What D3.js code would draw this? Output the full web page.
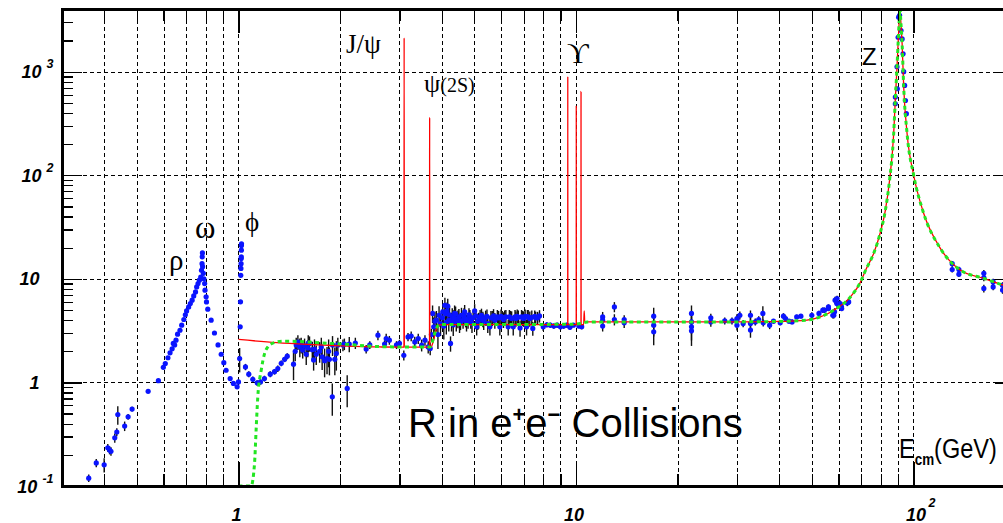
<!DOCTYPE html>
<html>
<head>
<meta charset="utf-8">
<script src="https://cdn.jsdelivr.net/npm/d3@7"></script>
<style>
  html, body { margin: 0; padding: 0; background: #fff; }
  svg { display: block; }
</style>
</head>
<body>
<svg id="chart" width="1003" height="523"></svg>
<script>
// ---------------- data ----------------
// axis tick labels
const xTickValues = [1, 10, 100];
const xTickBase = ["1", "10", "10"];
const xTickExp = ["", "", "2"];
const yTickValues = [0.1, 1, 10, 100, 1000];
const yTickBase = ["10", "1", "10", "10", "10"];
const yTickExp = ["-1", "", "", "2", "3"];

// measured R ratio: centre-of-mass energy (GeV), R, error
const dataE = [
  0.36, 0.379, 0.40, 0.41, 0.415, 0.419, 0.43, 0.436, 0.439, 0.46, 0.471, 0.484, 0.54, 0.579,
  0.599, 0.607, 0.618, 0.627, 0.636, 0.641, 0.647, 0.653, 0.66, 0.671, 0.679, 0.689, 0.696, 0.702,
  0.712, 0.72, 0.729, 0.737, 0.746, 0.752, 0.759, 0.766, 0.773, 0.777, 0.78, 0.781, 0.782, 0.783,
  0.787, 0.79, 0.794, 0.796, 0.802, 0.804, 0.811, 0.83, 0.849, 0.87, 0.889, 0.905, 0.919, 0.945,
  0.966, 0.991, 1.0, 1.008, 1.012, 1.014, 1.016, 1.017, 1.018, 1.019, 1.0195, 1.020, 1.0205, 1.021,
  1.049, 1.073, 1.103, 1.136, 1.162, 1.194, 1.242, 1.279, 1.308, 1.339, 1.37, 1.395, 1.456, 1.473,
  1.483, 1.5, 1.52, 1.534, 1.55, 1.57, 1.588, 1.605, 1.624, 1.655, 1.67, 1.70, 1.74, 1.77, 1.80,
  1.83, 1.86, 1.897, 1.93, 1.97, 2.04, 2.06, 2.1, 2.13, 2.22, 2.39, 2.45, 2.59, 2.71, 2.74, 2.8,
  2.94, 3.0, 3.09, 3.18, 3.25, 3.33, 3.41, 3.49, 3.57, 3.65, 3.7, 3.73, 3.76, 3.79, 3.82, 3.86,
  3.9, 3.93, 3.97, 4.03, 4.06, 4.09, 4.13, 4.17, 4.2, 4.25, 4.3, 4.33, 4.37, 4.42, 4.47, 4.52,
  4.58, 4.63, 4.68, 4.74, 4.79, 4.85, 4.92, 5.01, 5.08, 5.15, 5.25, 5.33, 5.4, 5.48, 5.56, 5.65,
  5.75, 5.85, 5.95, 6.05, 6.1, 6.2, 6.3, 6.4, 6.52, 6.6, 6.64, 6.75, 6.83, 6.9, 7.0, 7.07, 7.14,
  7.22, 7.3, 7.45, 7.6, 7.8, 8.0, 8.2, 8.4, 8.6, 8.8, 9.0, 9.2, 9.4, 9.6, 9.83, 10.2, 10.4,
  12.0, 12.0, 12.0, 13.0, 13.0, 13.9, 13.9,
  17.0, 17.0, 17.0, 22.0, 22.0, 22.0, 22.0, 25.1, 25.1, 27.6, 29.0, 30.0, 30.0, 30.0, 30.6, 31.3,
  32.9, 32.9, 32.9, 34.0, 34.8, 35.8, 35.9, 37.5, 38.5, 40.3, 41.2, 41.8, 42.8, 43.7, 45.1, 46.4,
  50.0, 52.5, 53.9, 54.5, 56.0, 56.0, 57.7, 58.1, 58.4, 58.6, 59.3, 59.4, 60.0, 60.7, 61.2, 61.3,
  63.7, 64.3,
  88.4, 88.4, 89.4, 89.6, 90.1, 90.4, 91.0, 91.9, 92.6, 93.2, 93.6, 94.2, 94.7, 95.3,
  130.3, 130.3, 136.4, 136.4, 161.7, 161.7, 161.7, 172.3, 172.3, 183.7, 183.7
];
const dataR = [
  0.119, 0.167, 0.16, 0.234, 0.222, 0.216, 0.292, 0.332, 0.49, 0.379, 0.466, 0.553, 0.82, 1.04,
  1.40, 1.52, 1.73, 1.93, 2.11, 2.38, 2.30, 2.56, 2.92, 3.19, 3.57, 4.05, 4.49, 4.9,
  5.36, 5.78, 6.22, 6.84, 7.48, 8.36, 9.0, 9.7, 10.4, 12.1, 14.0, 16.3, 17.8, 13.1,
  11.3, 10.0, 9.0, 7.77, 6.7, 5.99, 5.09, 3.99, 3.0, 2.3, 1.87, 1.55, 1.31, 1.09,
  0.978, 0.907, 1.01, 1.70, 3.44, 6.0, 10.8, 12.6, 14.0, 15.7, 16.3, 18.9, 21.0, 21.8,
  1.41, 1.2, 1.07, 0.99, 1.01, 1.09, 1.2, 1.27, 1.36, 1.53, 1.67, 1.79, 1.5, 2.0,
  2.3, 2.45, 2.2, 2.3, 2.05, 2.25, 1.87, 2.15, 2.38, 2.07, 1.65, 1.87, 2.0, 1.77, 1.62,
  1.7, 1.67, 0.726, 1.67, 2.3, 2.3, 2.35, 0.875, 2.35, 2.4, 2.1, 2.3, 2.86, 2.35, 2.65, 2.56,
  2.3, 2.38, 1.83, 2.75, 2.8, 2.46, 2.65, 2.29, 2.56, 2.2, 2.13, 2.9, 4.63, 3.44, 3.9, 3.99,
  2.9, 4.45, 3.7, 4.79, 3.5, 5.56, 3.8, 5.44, 4.0, 2.38, 4.3, 3.6, 4.63, 3.9, 4.14, 3.7,
  4.45, 4.0, 4.79, 3.8, 3.99, 4.3, 3.7, 4.9, 3.44, 4.0, 4.45, 3.9, 4.23, 3.7, 3.44, 4.2,
  3.99, 4.3, 3.44, 4.2, 4.05, 4.3, 3.44, 4.2, 3.44, 4.3, 4.14, 4.25, 3.36, 4.3, 4.14, 4.35, 3.44,
  4.3, 4.14, 3.32, 4.2, 4.38, 3.44, 3.6, 3.57, 3.5, 3.57, 3.44, 3.5, 3.57, 3.4, 3.57, 3.5, 3.45,
  4.29, 3.99, 3.5, 5.36, 4.05, 4.05, 3.76,
  4.36, 3.57, 3.08, 4.63, 3.84, 3.44, 3.15, 4.2, 3.84, 3.93, 3.93, 4.14, 3.99, 3.57, 4.45, 3.7,
  4.45, 3.7, 3.2, 3.84, 4.05, 4.63, 3.76, 3.57, 3.9, 3.76, 4.36, 4.14, 3.9, 3.84, 4.29, 4.36,
  4.45, 4.63, 4.98, 4.98, 5.17, 5.36, 4.45, 4.45, 4.8, 6.22, 5.78, 6.46, 5.7, 5.78, 5.4, 5.17,
  5.85, 5.99,
  568, 490, 1115, 684, 2150, 3356, 3500, 2495, 2070, 1489, 1000, 736, 527, 393,
  14.0, 12.3, 12.3, 11.1, 11.3, 10.3, 8.08, 9.34, 8.35, 8.67, 7.79
];
const dataErr = [
  0.01, 0.015, 0.025, 0.02, 0.02, 0.02, 0.03, 0.03, 0.1, 0.04, 0.03, 0.03, 0.03, 0.04,
  0.05, 0.05, 0.05, 0.05, 0.06, 0.06, 0.06, 0.06, 0.07, 0.08, 0.08, 0.1, 0.1, 0.1,
  0.1, 0.12, 0.12, 0.15, 0.15, 0.15, 0.2, 0.2, 0.2, 0.3, 0.3, 0.3, 0.4, 0.3,
  0.3, 0.2, 0.2, 0.2, 0.15, 0.15, 0.12, 0.1, 0.08, 0.06, 0.05, 0.05, 0.04, 0.04,
  0.04, 0.04, 0.05, 0.45, 0.1, 0.2, 0.3, 0.3, 0.3, 0.4, 0.4, 0.4, 0.5, 0.5,
  0.1, 0.08, 0.07, 0.06, 0.06, 0.07, 0.08, 0.08, 0.1, 0.1, 0.1, 0.12, 0.45, 0.4,
  0.4, 0.4, 0.45, 0.4, 0.35, 0.4, 0.4, 0.4, 0.4, 0.4, 0.35, 0.4, 0.45, 0.45, 0.5,
  0.5, 0.5, 0.25, 0.5, 0.4, 0.3, 0.3, 0.3, 0.4, 0.3, 0.2, 0.2, 0.3, 0.2, 0.3, 0.25,
  0.2, 0.2, 0.2, 0.25, 0.3, 0.3, 0.3, 0.3, 0.3, 0.3, 0.3, 0.4, 0.9, 0.8, 0.9, 0.9,
  0.8, 1.0, 0.9, 1.0, 0.9, 1.0, 0.9, 1.0, 0.9, 0.4, 0.9, 0.8, 0.9, 0.8, 0.8, 0.7,
  0.8, 0.7, 0.8, 0.7, 0.7, 0.7, 0.7, 0.8, 0.6, 0.7, 0.7, 0.7, 0.7, 0.7, 0.6, 0.7,
  0.7, 0.7, 0.6, 0.7, 0.7, 0.7, 0.6, 0.7, 0.6, 0.7, 0.7, 0.7, 0.6, 0.7, 0.7, 0.7, 0.6,
  0.7, 0.7, 0.5, 0.6, 0.6, 0.3, 0.2, 0.2, 0.2, 0.2, 0.2, 0.2, 0.2, 0.15, 0.15, 0.15, 0.2,
  0.5, 0.4, 0.4, 0.6, 0.5, 0.4, 0.4,
  0.9, 0.8, 0.8, 0.9, 0.9, 0.9, 0.9, 0.4, 0.4, 0.3, 0.3, 0.4, 0.4, 0.4, 0.4, 0.3,
  0.5, 0.5, 0.5, 0.3, 0.3, 0.8, 0.3, 0.3, 0.2, 0.2, 0.3, 0.3, 0.2, 0.2, 0.2, 0.2,
  0.3, 0.3, 0.3, 0.3, 0.3, 0.3, 0.3, 0.3, 0.4, 0.5, 0.4, 0.4, 0.4, 0.4, 0.3, 0.3,
  0.4, 0.4,
  20, 18, 40, 25, 60, 90, 90, 60, 50, 40, 30, 20, 15, 12,
  0.9, 0.8, 0.8, 0.7, 0.9, 0.8, 0.7, 0.7, 0.6, 0.6, 0.6
];

// additional fine scans: 1.5-2 GeV and the charm / open-flavour region
const scanE = [
  1.61, 1.68, 1.76, 1.85, 1.9, 1.95,
  4.02, 4.11, 4.15, 4.22, 4.28, 4.35, 4.4, 4.5, 4.55, 4.66, 4.71, 4.82, 4.88, 4.96, 5.05, 5.12,
  5.2, 5.3, 5.45, 5.6, 5.7, 5.9, 6.0, 6.15, 6.35, 6.45, 6.7, 6.95, 7.18, 7.4, 7.55, 7.7
];
const scanR = [
  2.4, 2.1, 2.2, 2.0, 2.3, 1.9,
  4.2, 4.6, 4.9, 4.5, 3.9, 4.2, 4.6, 4.3, 3.9, 4.4, 4.1, 4.5, 4.0, 4.2, 4.4, 3.9,
  4.3, 4.1, 4.35, 4.2, 4.4, 4.2, 4.35, 4.25, 4.3, 4.15, 4.35, 4.2, 4.3, 4.25, 4.35, 4.2
];
const scanErr = [
  0.45, 0.5, 0.5, 0.6, 0.5, 0.6,
  0.9, 0.9, 1.0, 0.9, 0.8, 0.8, 0.8, 0.8, 0.7, 0.8, 0.7, 0.7, 0.7, 0.7, 0.7, 0.7,
  0.7, 0.7, 0.7, 0.7, 0.7, 0.7, 0.7, 0.7, 0.7, 0.7, 0.7, 0.7, 0.7, 0.7, 0.6, 0.6
];

// prediction below 11 GeV including the narrow resonances (red)
const lowRedE = [
  1.0, 1.3, 1.6, 2.0, 2.62, 3.05, 3.093, 3.097, 3.101, 3.2, 3.5, 3.682, 3.686, 3.690,
  3.72, 3.78, 3.85, 3.92, 4.2, 5.0, 7.0, 9.0, 9.456, 9.460, 9.464, 10.019, 10.023, 10.027,
  10.351, 10.355, 10.359, 10.54, 10.58, 10.62
];
const lowRedR = [
  2.6, 2.42, 2.33, 2.26, 2.2, 2.19, 2.19, 2123, 2.19, 2.19, 2.19, 2.19, 359, 2.19,
  2.2, 2.5, 3.2, 3.6, 3.62, 3.62, 3.62, 3.62, 3.62, 899, 3.62, 3.62, 472, 3.62,
  3.62, 644, 3.62, 3.62, 4.9, 3.84
];

// continuum prediction below 11 GeV without narrow resonances (green)
const lowGreenE = [
  1.0, 1.09, 1.116, 1.128, 1.141, 1.168, 1.195, 1.222, 1.259, 1.354, 1.52, 1.62, 2.04, 2.6,
  3.0, 3.7, 3.76, 3.82, 3.88, 3.94, 5.0, 7.0, 9.5, 10.3, 10.8
];
const lowGreenR = [
  0.1, 0.1, 0.166, 0.346, 0.726, 1.31, 1.9, 2.2, 2.38, 2.5, 2.48, 2.45, 2.34, 2.22,
  2.2, 2.2, 2.5, 3.0, 3.45, 3.62, 3.63, 3.63, 3.64, 3.7, 3.82
];

// common prediction above 11 GeV, through the Z resonance (both curves)
const highE = [
  12, 15, 20, 30, 40, 48.4, 53, 55.7, 59.8, 63.7, 66.5, 69.3, 72.5, 76.2, 79.8, 82.5, 85.0,
  87.4, 88.4, 89.2, 90.1, 90.7, 91.19, 91.8, 92.6, 93.6, 95.8, 100.2, 107.3, 120.3, 137.9,
  161.7, 185.3, 200
];
const highR = [
  3.84, 3.84, 3.84, 3.84, 3.88, 4.0, 4.3, 4.6, 5.3, 6.2, 7.3, 9.0, 12.5, 17.5, 28, 45, 90,
  250, 545, 950, 1900, 3000, 4100, 3000, 1840, 708, 250, 100, 42.7, 19.6, 12.1,
  10.1, 8.67, 8.1
];

// ---------------- layout ----------------
const W = 1003, H = 523;
const plot = { left: 62, right: 1015, top: 9.3, bottom: 486 };

const svg = d3.select("#chart");
svg.append("rect").attr("width", W).attr("height", H).attr("fill", "#fff");

const x = d3.scaleLog().domain([0.3, 200]).range([plot.left, plot.right]);
const y = d3.scaleLog().domain([0.1, 4000]).range([plot.bottom, plot.top]);

// tick positions: decades and the 2..9 subdivisions inside the range
const xMajor = [1, 10, 100];
const xMinor = [];
[0.1, 1, 10, 100].forEach(d => { for (let k = 2; k <= 9; k++) { const v = +(d * k).toPrecision(3); if (v >= 0.3 && v <= 200) xMinor.push(v); } });
const yMajor = [0.1, 1, 10, 100, 1000];
const yMinor = [];
[0.1, 1, 10, 100, 1000].forEach(d => { for (let k = 2; k <= 9; k++) { const v = +(d * k).toPrecision(3); if (v <= 4000) yMinor.push(v); } });

svg.append("defs").append("clipPath").attr("id", "plotClip")
  .append("rect")
  .attr("x", plot.left).attr("y", plot.top)
  .attr("width", plot.right - plot.left).attr("height", plot.bottom - plot.top + 2);

// ---------------- grid ----------------
const grid = svg.append("g").attr("class", "grid").attr("shape-rendering", "crispEdges");
const gridX = d3.axisBottom(x).tickValues(xMinor.concat(xMajor)).tickSize(-(plot.bottom - plot.top)).tickFormat("");
grid.append("g").attr("transform", `translate(0,${plot.bottom})`).call(gridX);
const gridY = d3.axisLeft(y).tickValues([1, 10, 100, 1000]).tickSize(-(plot.right - plot.left)).tickFormat("");
grid.append("g").attr("transform", `translate(${plot.left},0)`).call(gridY);
grid.selectAll(".domain").remove();
grid.selectAll("line")
  .attr("stroke", "#000").attr("stroke-width", 1)
  .attr("stroke-dasharray", "4,3");

// ---------------- data points ----------------
const points = dataE.map((e, i) => ({ e, r: dataR[i], err: dataErr[i] }))
  .concat(scanE.map((e, i) => ({ e, r: scanR[i], err: scanErr[i] })));
const dataG = svg.append("g").attr("clip-path", "url(#plotClip)");

dataG.selectAll("line.err").data(points).join("line")
  .attr("class", "err")
  .attr("x1", d => x(d.e)).attr("x2", d => x(d.e))
  .attr("y1", d => y(Math.max(d.r - d.err, 0.05)))
  .attr("y2", d => y(d.r + d.err))
  .attr("stroke", "#111").attr("stroke-width", 1.4);

dataG.selectAll("circle").data(points).join("circle")
  .attr("cx", d => x(d.e)).attr("cy", d => y(d.r))
  .attr("r", 2.6).attr("fill", "#0a14ff");

// ---------------- curves ----------------
const line = d3.line().x(d => x(d[0])).y(d => y(d[1])).curve(d3.curveMonotoneX);
const redPts = lowRedE.map((e, i) => [e, lowRedR[i]]).concat(highE.map((e, i) => [e, highR[i]]));
const greenPts = lowGreenE.map((e, i) => [e, lowGreenR[i]]).concat(highE.map((e, i) => [e, highR[i]]));

svg.append("path")
  .datum(redPts)
  .attr("clip-path", "url(#plotClip)")
  .attr("d", line)
  .attr("fill", "none").attr("stroke", "#ff0000").attr("stroke-width", 1.3);

svg.append("path")
  .datum(greenPts)
  .attr("clip-path", "url(#plotClip)")
  .attr("d", line)
  .attr("fill", "none").attr("stroke", "#22e622").attr("stroke-width", 3)
  .attr("stroke-dasharray", "4,3.5");

// ---------------- frame and ticks ----------------
const axes = svg.append("g").attr("shape-rendering", "crispEdges");
function tickGroup(axisGen, tx, ty) {
  const g = axes.append("g").attr("transform", `translate(${tx},${ty})`).call(axisGen);
  g.selectAll(".domain").remove();
  g.selectAll("text").remove();
  g.selectAll("line").attr("stroke", "#000").attr("stroke-width", 1.2);
  return g;
}
// bottom and top (ticks point into the plot)
tickGroup(d3.axisBottom(x).tickValues(xMajor).tickSize(-24), 0, plot.bottom);
tickGroup(d3.axisBottom(x).tickValues(xMinor).tickSize(-12), 0, plot.bottom);
tickGroup(d3.axisTop(x).tickValues(xMajor).tickSize(-24), 0, plot.top);
tickGroup(d3.axisTop(x).tickValues(xMinor).tickSize(-12), 0, plot.top);
// left and right
tickGroup(d3.axisLeft(y).tickValues(yMajor).tickSize(-20), plot.left, 0);
tickGroup(d3.axisLeft(y).tickValues(yMinor).tickSize(-11), plot.left, 0);
tickGroup(d3.axisRight(y).tickValues(yMajor).tickSize(-20), plot.right, 0);
tickGroup(d3.axisRight(y).tickValues(yMinor).tickSize(-11), plot.right, 0);

// thick frame
axes.append("rect")
  .attr("x", plot.left).attr("y", plot.top)
  .attr("width", plot.right - plot.left).attr("height", plot.bottom - plot.top)
  .attr("fill", "none").attr("stroke", "#000").attr("stroke-width", 3);

// ---------------- tick labels ----------------
const tickFont = "'Liberation Sans', Arial, Helvetica, sans-serif";
const yLab = svg.append("g").attr("font-family", tickFont).attr("font-weight", "bold").attr("font-style", "italic");
yTickValues.forEach((v, i) => {
  const hasExp = yTickExp[i] !== "";
  const t = yLab.append("text")
    .attr("x", hasExp ? 53.5 : 39.5)
    .attr("y", y(v) + 6.5)
    .attr("text-anchor", "end")
    .attr("font-size", 18)
    .text(yTickBase[i]);
  if (hasExp) {
    t.append("tspan").attr("dx", 5).attr("dy", -10).attr("font-size", 12.5).text(yTickExp[i]);
  }
});

const xLab = svg.append("g").attr("font-family", tickFont).attr("font-weight", "bold").attr("font-style", "italic");
xTickValues.forEach((v, i) => {
  const t = xLab.append("text")
    .attr("x", x(v) + (xTickExp[i] ? 2.5 : -2))
    .attr("y", 520.5)
    .attr("text-anchor", "middle")
    .attr("font-size", 18)
    .text(xTickBase[i]);
  if (xTickExp[i]) {
    const bb = t.node().getBBox();
    xLab.append("text")
      .attr("x", bb.x + bb.width + 2.5)
      .attr("y", 507)
      .attr("font-size", 12.5)
      .text(xTickExp[i]);
  }
});

// ---------------- annotations ----------------
const serif = "'Liberation Serif', 'DejaVu Serif', 'Times New Roman', serif";
const sans = "'Liberation Sans', Arial, Helvetica, sans-serif";
const ann = svg.append("g").attr("fill", "#000");

ann.append("text").attr("x", 346).attr("y", 53).attr("font-family", serif).attr("font-size", 27).text("J/ψ");
const psi2 = ann.append("text").attr("x", 424).attr("y", 92).attr("font-family", serif).attr("font-size", 26).text("ψ");
psi2.append("tspan").attr("font-size", 20).text("(2S)");
ann.append("text").attr("x", 567).attr("y", 63).attr("font-family", serif).attr("font-size", 30).text("ϒ");
ann.append("text").attr("x", 862).attr("y", 65).attr("font-family", sans).attr("font-size", 24).text("Z");
ann.append("text").attr("x", 169).attr("y", 270).attr("font-family", serif).attr("font-size", 29).text("ρ");
ann.append("text").attr("x", 195).attr("y", 238).attr("font-family", serif).attr("font-size", 31).text("ω");
ann.append("text").attr("x", 245).attr("y", 231).attr("font-family", serif).attr("font-size", 27).text("ϕ");

// title inside the frame
const title = ann.append("text").attr("x", 408).attr("y", 437)
  .attr("font-family", sans).attr("font-size", 40).text("R in e");
title.append("tspan").attr("dy", -15).attr("font-size", 22).attr("font-weight", "bold").text("+");
title.append("tspan").attr("dy", 15).text("e");
title.append("tspan").attr("dy", -15).attr("font-size", 22).attr("font-weight", "bold").text("−");
title.append("tspan").attr("dy", 15).text(" Collisions");

// axis title (slightly condensed)
const xt = ann.append("text").attr("transform", "translate(899,458) scale(0.84,1)")
  .attr("font-family", sans).attr("font-size", 28).text("E");
xt.append("tspan").attr("dy", 7).attr("font-size", 16).attr("font-weight", "bold").text("cm");
xt.append("tspan").attr("dy", -7).text("(GeV)");
</script>
</body>
</html>
